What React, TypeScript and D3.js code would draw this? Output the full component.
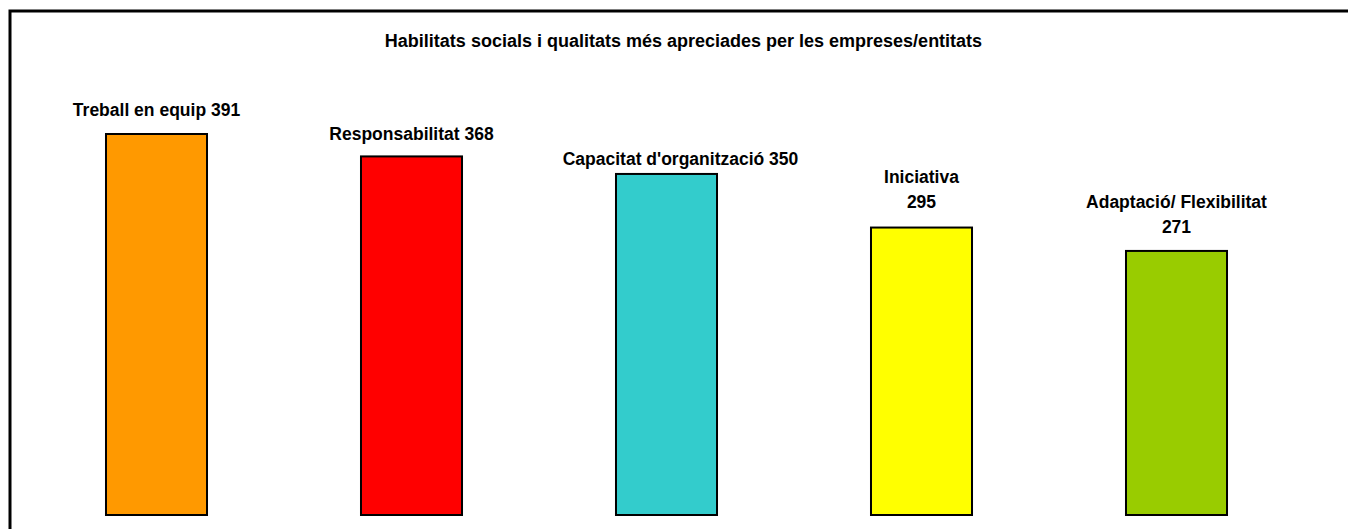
import { useEffect, useRef } from 'react';

import * as d3 from 'd3';

const WIDTH = 1348;
const HEIGHT = 529;

const TITLE = 'Habilitats socials i qualitats més apreciades per les empreses/entitats';

const categories = [
  'Treball en equip',
  'Responsabilitat',
  "Capacitat d'organització",
  'Iniciativa',
  'Adaptació/ Flexibilitat',
];
const values = [391, 368, 350, 295, 271];
const colors = ['#FF9900', '#FF0000', '#33CCCC', '#FFFF00', '#99CC00'];
// labels that Excel wrapped onto two lines
const wrapped = [false, false, false, true, true];

// label nudges (layout only)
const labelDx = [0, 0, 14, 0, 0];
const labelGap = [17, 15, 8, 19, 17];

const FONT = "'Liberation Sans', Arial, sans-serif";

function App() {
  const svgRef = useRef(null);

  useEffect(() => {
    const svg = d3.select(svgRef.current);
    svg.selectAll('*').remove();

    const x = d3.scaleBand()
      .domain(categories)
      .range([29, 1304])
      .paddingInner(0.596)
      .paddingOuter(0.298);

    const y = d3.scaleLinear()
      .domain([0, 391])
      .range([515, 134]);

    // outer frame (runs past the visible area on right and bottom)
    svg.append('rect')
      .attr('x', 10)
      .attr('y', 11)
      .attr('width', 1500)
      .attr('height', 700)
      .attr('fill', 'white')
      .attr('stroke', '#000')
      .attr('stroke-width', 3);

    svg.append('text')
      .attr('x', 683.5)
      .attr('y', 47)
      .attr('text-anchor', 'middle')
      .attr('font-family', FONT)
      .attr('font-weight', 'bold')
      .attr('font-size', 18)
      .text(TITLE);

    const data = categories.map((c, i) => ({ c, v: values[i], i }));

    svg.append('g')
      .selectAll('rect')
      .data(data)
      .join('rect')
      .attr('x', (d) => (x(d.c) || 0) + 1)
      .attr('y', (d) => y(d.v))
      .attr('width', x.bandwidth() - 2)
      .attr('height', (d) => y(0) - y(d.v))
      .attr('fill', (d) => colors[d.i])
      .attr('stroke', '#000')
      .attr('stroke-width', 2);

    const labels = svg.append('g')
      .attr('font-family', FONT)
      .attr('font-weight', 'bold')
      .attr('font-size', 17.5)
      .attr('text-anchor', 'middle');

    data.forEach((d) => {
      const cx = (x(d.c) || 0) + x.bandwidth() / 2 + labelDx[d.i];
      const base = y(d.v) - 1 - labelGap[d.i];
      if (wrapped[d.i]) {
        labels.append('text').attr('x', cx).attr('y', base - 25).text(d.c);
        labels.append('text').attr('x', cx).attr('y', base).text(String(d.v));
      } else {
        labels.append('text').attr('x', cx).attr('y', base).text(`${d.c} ${d.v}`);
      }
    });
  }, []);

  return (
    <svg
      ref={svgRef}
      width={WIDTH}
      height={HEIGHT}
      style={{ position: 'fixed', top: 0, left: 0, background: 'white' }}
    />
  );
}

export default App;
